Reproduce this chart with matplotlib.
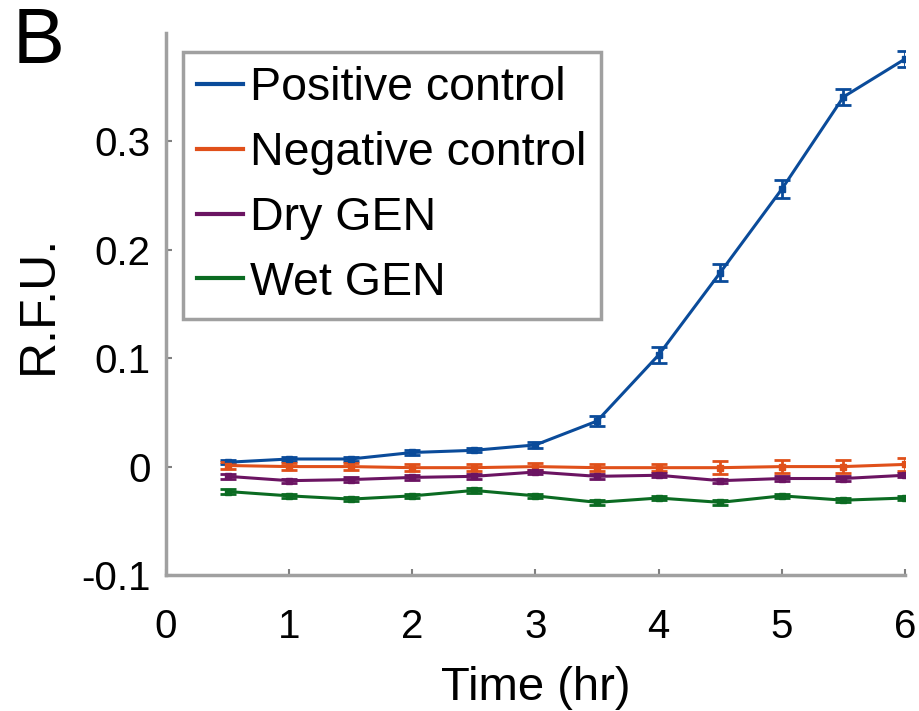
import numpy as np
import matplotlib
matplotlib.use("Agg")
import matplotlib.pyplot as plt

plt.rcParams['font.family'] = ['Liberation Sans', 'DejaVu Sans']

# time points (hr)
time_hr = [0.5, 1, 1.5, 2, 2.5, 3, 3.5, 4, 4.5, 5, 5.5, 6]

labels = ["Positive control", "Negative control", "Dry GEN", "Wet GEN"]

pos_ctrl = [0.004, 0.007, 0.007, 0.013, 0.015, 0.020, 0.042, 0.103, 0.179, 0.256, 0.341, 0.376]
pos_err = [0.002, 0.002, 0.002, 0.002, 0.002, 0.003, 0.005, 0.007, 0.008, 0.008, 0.007, 0.007]

neg_ctrl = [0.001, 0.000, 0.000, -0.001, -0.001, 0.000, -0.001, -0.001, -0.001, 0.000, 0.000, 0.002]
neg_err = [0.003, 0.003, 0.003, 0.003, 0.003, 0.003, 0.003, 0.003, 0.006, 0.006, 0.006, 0.006]

dry_gen = [-0.009, -0.013, -0.012, -0.010, -0.009, -0.005, -0.009, -0.008, -0.013, -0.011, -0.011, -0.008]
dry_err = [0.002] * 12

wet_gen = [-0.023, -0.027, -0.030, -0.027, -0.022, -0.027, -0.033, -0.029, -0.033, -0.027, -0.031, -0.029]
wet_err = [0.002] * 12

colors = ['#0a4b9a', '#e0501a', '#6b1462', '#0b6b22']

fig = plt.figure(figsize=(9.2, 7.11), dpi=100)
ax = fig.add_axes([0.1804, 0.1913, 0.8033, 0.7623])

series = [(pos_ctrl, pos_err), (neg_ctrl, neg_err), (dry_gen, dry_err), (wet_gen, wet_err)]
handles = []
for (vals, errs), lab, c in zip(series, labels, colors):
    ax.errorbar(time_hr, vals, yerr=errs, color=c, lw=2.2, marker='s', ms=5,
                capsize=6, capthick=2, elinewidth=2, label=lab)
    h, = ax.plot([], [], color=c, lw=3)
    handles.append(h)

ax.set_xlim(0, 6)
ax.set_ylim(-0.1, 0.4)
ax.set_xticks([0, 1, 2, 3, 4, 5, 6])
ax.set_yticks([-0.1, 0, 0.1, 0.2, 0.3])
ax.set_yticklabels(['-0.1', '0', '0.1', '0.2', '0.3'])

for s in ['top', 'right']:
    ax.spines[s].set_visible(False)
for s in ['left', 'bottom']:
    ax.spines[s].set_color('#a0a0a0')
    ax.spines[s].set_linewidth(2.5)

ax.tick_params(axis='both', direction='in', length=4, width=1.5, color='#808080', labelsize=29)
ax.tick_params(axis='x', pad=24)
ax.tick_params(axis='y', pad=11)

ax.set_xlabel("Time (hr)", fontsize=34, labelpad=14)
ax.set_ylabel("R.F.U.", fontsize=36, labelpad=14)

leg = ax.legend(handles, labels, loc='upper left', bbox_to_anchor=(0.023, 0.965), fontsize=33.5,
                handlelength=1.0, handletextpad=0.15, labelspacing=0.45,
                borderpad=0.3, borderaxespad=0, fancybox=False, framealpha=1)
leg.get_frame().set_edgecolor('#a0a0a0')
leg.get_frame().set_linewidth(2.5)

fig.text(0.014, 0.992, "B", fontsize=56, va='top', ha='left')

fig.savefig("out.png", dpi=100)
